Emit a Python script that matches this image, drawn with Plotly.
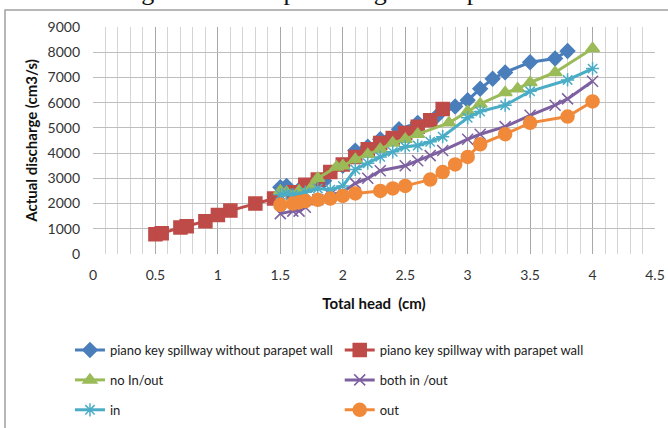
import plotly.graph_objects as go

# ---- data ----
blue_x = [1.5, 1.55, 1.65, 1.75, 1.85, 2.0, 2.1, 2.2, 2.3, 2.45, 2.6, 2.75, 2.9, 3.0, 3.1, 3.2, 3.3, 3.5, 3.7, 3.8]
blue_y = [2650, 2700, 2550, 2750, 2900, 3500, 4100, 4250, 4550, 4950, 5200, 5450, 5850, 6100, 6550, 6950, 7200, 7600, 7750, 8050]

red_x = [0.5, 0.55, 0.7, 0.75, 0.9, 1.0, 1.1, 1.3, 1.45, 1.6, 1.7, 1.8, 1.9, 2.0, 2.1, 2.2, 2.3, 2.4, 2.5, 2.6, 2.7, 2.8]
red_y = [780, 820, 1050, 1100, 1300, 1550, 1720, 2000, 2200, 2450, 2750, 2950, 3250, 3550, 3850, 4150, 4400, 4600, 4800, 5050, 5300, 5750]

green_x = [1.5, 1.55, 1.65, 1.75, 1.8, 1.95, 2.0, 2.1, 2.2, 2.3, 2.4, 2.5, 2.6, 2.85, 3.0, 3.1, 3.3, 3.4, 3.5, 3.7, 4.0]
green_y = [2500, 2450, 2500, 2650, 3000, 3450, 3500, 3750, 3950, 4150, 4400, 4550, 4750, 5200, 5650, 5950, 6400, 6550, 6800, 7200, 8150]

purple_x = [1.5, 1.6, 1.65, 1.7, 1.8, 1.9, 2.0, 2.1, 2.2, 2.3, 2.5, 2.6, 2.7, 2.8, 3.0, 3.1, 3.3, 3.5, 3.7, 3.8, 4.0]
purple_y = [1600, 1700, 1700, 1850, 2150, 2350, 2450, 2800, 3000, 3300, 3500, 3700, 3900, 4100, 4550, 4750, 5050, 5500, 5900, 6150, 6850]

cyan_x = [1.5, 1.55, 1.6, 1.7, 1.8, 1.9, 2.0, 2.1, 2.2, 2.3, 2.4, 2.5, 2.6, 2.7, 2.8, 3.0, 3.1, 3.3, 3.5, 3.8, 4.0]
cyan_y = [2350, 2400, 2350, 2450, 2600, 2550, 2700, 3350, 3600, 3850, 4050, 4250, 4300, 4450, 4650, 5400, 5650, 5900, 6450, 6900, 7350]

orange_x = [1.5, 1.6, 1.65, 1.7, 1.8, 1.9, 2.0, 2.1, 2.3, 2.4, 2.5, 2.7, 2.8, 2.9, 3.0, 3.1, 3.3, 3.5, 3.8, 4.0]
orange_y = [1950, 2000, 2050, 2100, 2150, 2200, 2300, 2400, 2500, 2600, 2700, 2950, 3250, 3550, 3850, 4350, 4750, 5200, 5450, 6050]

x_ticks = [0, 0.5, 1, 1.5, 2, 2.5, 3, 3.5, 4, 4.5]
y_ticks = [0, 1000, 2000, 3000, 4000, 5000, 6000, 7000, 8000, 9000]

FONT = "Lato"

series = [
    ("piano key spillway without parapet wall", blue_x, blue_y, "#4A7EBB", "diamond", 11, "legend"),
    ("no In/out", green_x, green_y, "#9BBB59", "triangle-up", 12, "legend"),
    ("in", cyan_x, cyan_y, "#4BACC6", "asterisk-open", 11, "legend"),
    ("piano key spillway with parapet wall", red_x, red_y, "#BE4B48", "square", 13, "legend2"),
    ("both in /out", purple_x, purple_y, "#7D60A0", "x-thin-open", 11, "legend2"),
    ("out", orange_x, orange_y, "#F08A3A", "circle", 13, "legend2"),
]

fig = go.Figure()
# draw order: blue, red, green, purple, cyan, orange (Excel order)
draw_order = [0, 3, 1, 4, 2, 5]
for i in draw_order:
    name, xs, ys, col, sym, sz, lg = series[i]
    fig.add_trace(go.Scatter(
        x=xs, y=ys, name=name, mode="lines+markers",
        line=dict(color=col, width=3),
        marker=dict(symbol=sym, size=sz, color=col, line=dict(color=col, width=1.5)),
        legend=lg, legendgroup=name, legendrank=i,
    ))

fig.update_layout(
    width=668, height=428,
    margin=dict(l=93, r=13, t=27, b=174, autoexpand=False),
    paper_bgcolor="white", plot_bgcolor="white",
    font=dict(family=FONT, size=13, color="#222222"),
    xaxis=dict(
        range=[0, 4.5], tickvals=x_ticks, ticktext=[f"{v:g}" for v in x_ticks],
        showgrid=True, gridcolor="#A8A8A8", gridwidth=1,
        minor=dict(dtick=0.1, showgrid=True, gridcolor="#D4D4D4", gridwidth=1),
        zeroline=False, showline=False, ticks="",
        ticklabelstandoff=11, automargin=False,
        title=dict(text="<b>Total head  (cm)</b>", font=dict(family=FONT, size=15, color="#111111"), standoff=16),
        tickfont=dict(family=FONT, size=14, color="#333333"),
    ),
    yaxis=dict(
        range=[0, 9000], tickvals=y_ticks, ticktext=[str(v) for v in y_ticks],
        showgrid=True, gridcolor="#BEBEBE", gridwidth=1,
        zeroline=False, showline=False, ticks="",
        ticklabelstandoff=12, automargin=False,
        title=dict(text="<b>Actual discharge (cm3/s)</b>", font=dict(family=FONT, size=15, color="#111111"), standoff=6),
        tickfont=dict(family=FONT, size=14, color="#333333"),
    ),
    legend=dict(
        x=-0.041, xanchor="left", y=-0.357, yanchor="top",
        orientation="v", traceorder="grouped", tracegroupgap=10,
        font=dict(family=FONT, size=13, color="#222222"),
        bgcolor="rgba(0,0,0,0)", itemwidth=30,
    ),
    legend2=dict(
        x=0.439, xanchor="left", y=-0.357, yanchor="top",
        orientation="v", traceorder="grouped", tracegroupgap=10,
        font=dict(family=FONT, size=13, color="#222222"),
        bgcolor="rgba(0,0,0,0)", itemwidth=30,
    ),
    showlegend=True,
)

# outer chart frame (left and top edges visible)
fig.add_shape(type="rect", xref="paper", yref="paper",
              x0=(5 - 93) / 562, x1=(720 - 93) / 562,
              y0=(254 - 460) / 227, y1=(254 - 10) / 227,
              line=dict(color="#A0A0A0", width=1.5), fillcolor="rgba(0,0,0,0)", layer="below")

# cut-off line of document text above the chart
fig.add_annotation(text="actual discharge have been plotted against depth",
                   xref="paper", yref="paper", x=(-4 - 93) / 562, xanchor="left",
                   y=(254 - 8) / 227, yanchor="bottom", showarrow=False,
                   font=dict(family="Liberation Serif", size=26, color="#111111"))

fig.write_html("out.html", config={"displayModeBar": False},
               post_script="document.body.style.margin='0';document.body.style.overflow='hidden';")
